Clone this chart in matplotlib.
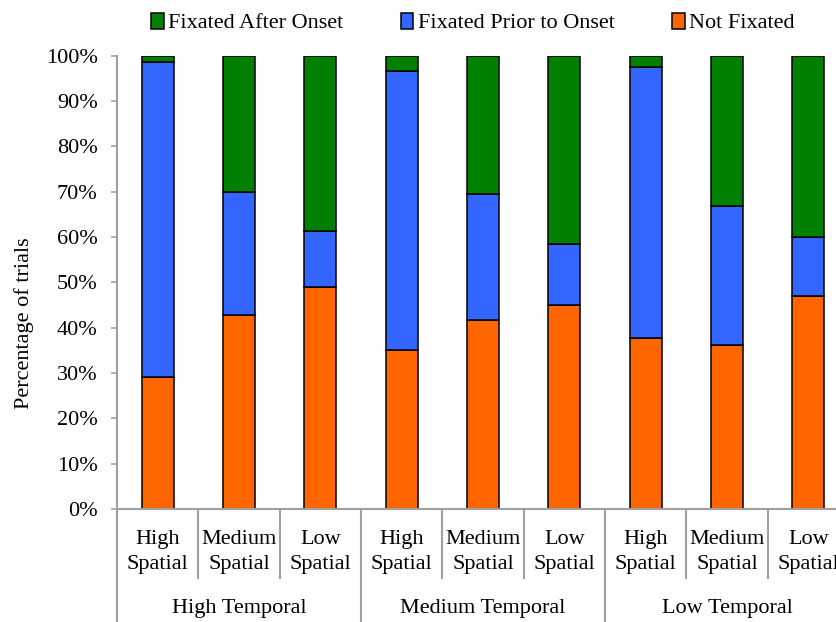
import matplotlib
matplotlib.use("Agg")
import matplotlib.pyplot as plt
from matplotlib.transforms import blended_transform_factory
import numpy as np

categories = ["High\nSpatial", "Medium\nSpatial", "Low\nSpatial"] * 3
groups = ["High Temporal", "Medium Temporal", "Low Temporal"]
not_fixated = [29.2, 42.9, 48.9, 35.1, 41.7, 45.0, 37.8, 36.2, 47.0]
prior_to_onset = [69.3, 27.1, 12.4, 61.6, 27.9, 13.5, 59.8, 30.6, 13.1]
after_onset = [100 - a - b for a, b in zip(not_fixated, prior_to_onset)]
yticks = list(range(0, 101, 10))
ytick_labels = [f"{t}%" for t in yticks]

c_orange = "#FF6600"
c_blue = "#3366FF"
c_green = "#008000"
axis_gray = "#A0A0A0"

plt.rcParams["font.family"] = ["Liberation Serif", "DejaVu Serif"]

fig = plt.figure(figsize=(8.37, 6.22), dpi=100)
W, H = 837, 622
left_px, right_px, top_px, bot_px = 117, 849, 55.7, 509
ax = fig.add_axes([left_px / W, (H - bot_px) / H, (right_px - left_px) / W, (bot_px - top_px) / H])

x = np.arange(len(categories))
bw = 0.39
b1 = ax.bar(x, not_fixated, bw, color=c_orange, edgecolor="black", linewidth=1.1, label="Not Fixated")
b2 = ax.bar(x, prior_to_onset, bw, bottom=not_fixated, color=c_blue, edgecolor="black", linewidth=1.1,
            label="Fixated Prior to Onset")
bottom2 = [a + b for a, b in zip(not_fixated, prior_to_onset)]
b3 = ax.bar(x, after_onset, bw, bottom=bottom2, color=c_green, edgecolor="black", linewidth=1.1,
            label="Fixated After Onset")

ax.set_xlim(-0.5, len(categories) - 0.5)
ax.set_ylim(0, 100)
ax.set_yticks(yticks)
ax.set_yticklabels(ytick_labels, fontsize=16)
ax.tick_params(axis="y", direction="out", length=4, width=1.2, color=axis_gray, pad=10)
ax.set_xticks(x)
ax.set_xticklabels(categories, fontsize=16, linespacing=1.45)
ax.tick_params(axis="x", length=0, pad=15)

for s in ["top", "right"]:
    ax.spines[s].set_visible(False)
for s in ["left", "bottom"]:
    ax.spines[s].set_color(axis_gray)
    ax.spines[s].set_linewidth(1.5)

ax.set_ylabel("Percentage of trials", fontsize=16)
ax.yaxis.set_label_coords(-0.114, 0.41)

trans = blended_transform_factory(ax.transData, ax.transAxes)
ax_h = bot_px - top_px
short_bot = -(578 - bot_px) / ax_h
long_bot = -(622 - bot_px) / ax_h
for i in range(len(categories) + 1):
    xb = i - 0.5
    if i % 3 == 0:
        ax.plot([xb, xb], [0, long_bot], transform=trans, color=axis_gray, lw=1.5, clip_on=False)
    else:
        ax.plot([xb, xb], [0, short_bot], transform=trans, color=axis_gray, lw=1.5, clip_on=False)

group_y = -(609 - bot_px) / ax_h
for gi, g in enumerate(groups):
    ax.text(gi * 3 + 1, group_y, g, transform=trans, ha="center", va="center", fontsize=16)

leg = fig.legend(handles=[b3, b2, b1], labels=["Fixated After Onset", "Fixated Prior to Onset", "Not Fixated"],
                 loc="center", bbox_to_anchor=(0.565, 1 - 23 / H), ncol=3, frameon=False, fontsize=16,
                 handlelength=0.55, handleheight=0.75, handletextpad=0.2, columnspacing=2.6)

fig.savefig("out.png", dpi=100)
